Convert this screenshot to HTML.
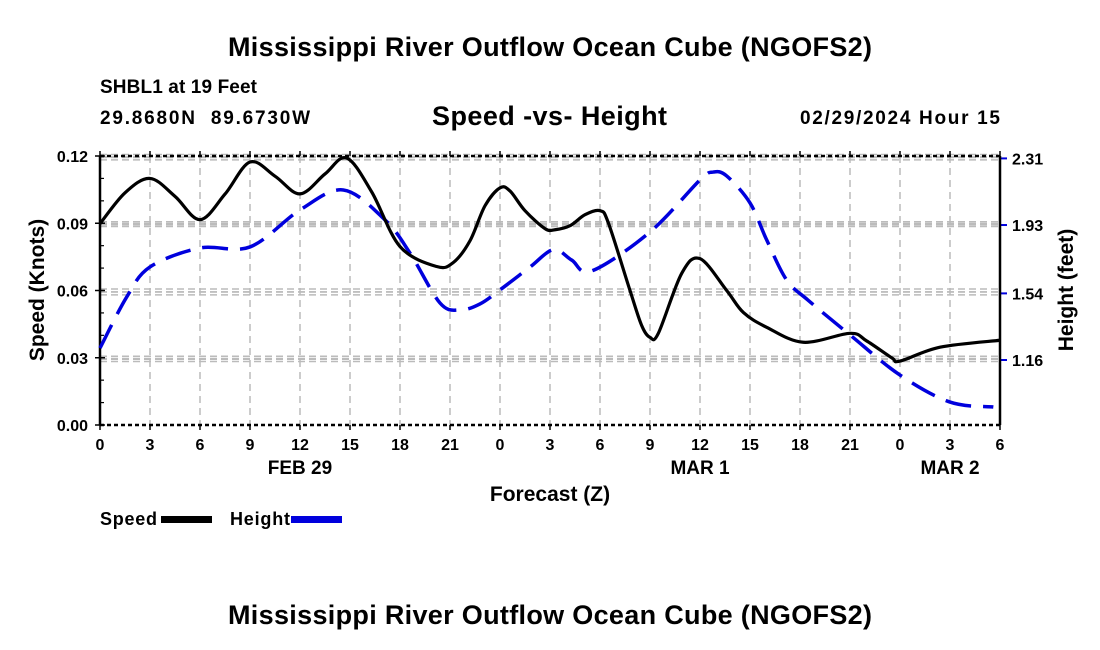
<!DOCTYPE html>
<html><head><meta charset="utf-8"><style>
body{margin:0;background:#fff;}
svg{display:block;font-family:"Liberation Sans",sans-serif;font-weight:bold;}
text{white-space:pre;}
</style></head><body>
<svg id="chart" width="1100" height="650" viewBox="0 0 1100 650">
<text x="550" y="56" font-size="27" text-anchor="middle" textLength="644">Mississippi River Outflow Ocean Cube (NGOFS2)</text>
<text x="100" y="93" font-size="19" textLength="157">SHBL1 at 19 Feet</text>
<text x="100" y="124" font-size="19" textLength="210">29.8680N  89.6730W</text>
<text x="432" y="125" font-size="27" textLength="235">Speed -vs- Height</text>
<text x="800" y="124" font-size="19" textLength="200">02/29/2024 Hour 15</text>
<g id="grid"></g>
<g id="axes"></g>
<g id="series"></g>
<text x="300" y="474" font-size="19" text-anchor="middle">FEB 29</text>
<text x="700" y="474" font-size="19" text-anchor="middle">MAR 1</text>
<text x="950" y="474" font-size="19" text-anchor="middle">MAR 2</text>
<text x="550" y="501" font-size="21" text-anchor="middle">Forecast (Z)</text>
<text transform="translate(44,290) rotate(-90)" font-size="21" text-anchor="middle">Speed (Knots)</text>
<text transform="translate(1073,290) rotate(-90)" font-size="21" text-anchor="middle">Height (feet)</text>
<g>
<text x="100" y="525" font-size="18" textLength="57">Speed</text>
<rect x="161" y="516" width="51" height="7" fill="#000"/>
</g>
<g>
<text x="230" y="525" font-size="18" textLength="60">Height</text>
<rect x="291" y="516" width="51" height="7" fill="#0000dd"/>
</g>
<text x="550" y="624" font-size="27" text-anchor="middle" textLength="644">Mississippi River Outflow Ocean Cube (NGOFS2)</text>
</svg>
<script>
const xTickLabels=["0","3","6","9","12","15","18","21","0","3","6","9","12","15","18","21","0","3","6"];
const leftTicks=[0,0.03,0.06,0.09,0.12];
const leftTickLabels=["0.00","0.03","0.06","0.09","0.12"];
const rightTicks=[1.16,1.54,1.93,2.31];
const rightTickLabels=["1.16","1.54","1.93","2.31"];
const speedHours=[0,1.5,3,4.5,6,7.5,9,10.5,12,13.5,14.8,16.3,18,20.2,21.2,22.2,23.1,24,24.6,25.5,26.7,27.3,28.2,29.1,30,30.5,31.8,32.5,33,33.5,34.9,36,37.6,38.6,40,42.2,45,46,47.5,48,50.4,54];
const speedValues=[0.0898,0.1036,0.110,0.102,0.0916,0.103,0.1173,0.111,0.1031,0.112,0.1191,0.104,0.0796,0.0707,0.0725,0.0822,0.0978,0.1058,0.1044,0.0956,0.0876,0.0871,0.0889,0.0938,0.0956,0.0902,0.060,0.0444,0.0391,0.0409,0.0676,0.0742,0.060,0.0502,0.0436,0.0369,0.0409,0.0375,0.030,0.0285,0.0347,0.0378];
const heightHours=[0,1.6,3,6,9,12,14.6,17.1,18.6,20.4,21.6,22.8,24,25.8,27.2,28.3,29.5,33,36,36.8,37.6,39,40,41.2,42.5,45,48,51,53.6];
const heightValues=[1.228,1.519,1.691,1.799,1.805,2.016,2.130,1.959,1.770,1.485,1.445,1.480,1.560,1.690,1.790,1.730,1.668,1.890,2.187,2.232,2.210,2.056,1.845,1.616,1.500,1.303,1.074,0.920,0.892];

const NS="http://www.w3.org/2000/svg";
const X0=100,X1=1000,YT=156,YB=425;
const xs=h=>X0+(h/54)*(X1-X0);
const ysL=v=>YB-(v/0.12)*(YB-YT);
const ysR=v=>360-(v-1.16)*175.3;
function mk(tag,attrs,parent){const e=document.createElementNS(NS,tag);for(const k in attrs)e.setAttribute(k,attrs[k]);parent.appendChild(e);return e;}
const grid=document.getElementById('grid'),axes=document.getElementById('axes'),series=document.getElementById('series');
xTickLabels.forEach((t,i)=>{
  const x=xs(i*3);
  if(i>0&&i<xTickLabels.length-1){const g=mk('line',{x1:x,y1:YT,x2:x,y2:YB,stroke:'#bbb','stroke-width':1.5,'stroke-dasharray':'7,5'},grid);
  
  }
  const tk=mk('line',{x1:x,y1:YB,x2:x,y2:YB+5,stroke:'#000','stroke-width':1.5},axes);
  
  
  const tt=mk('line',{x1:x,y1:YT,x2:x,y2:YT-5,stroke:'#000','stroke-width':1.5},axes);
  
  
  const lb=mk('text',{x:x,y:YB+25,'font-size':16,'text-anchor':'middle'},axes);lb.textContent=t;
  
  
});
leftTicks.forEach((v,i)=>{
  const y=ysL(v);
  if(i>0){[y-1.5,y+1.5].forEach(yy=>{const g=mk('line',{x1:X0,y1:yy,x2:X1,y2:yy,stroke:'#bbb','stroke-width':1.5,'stroke-dasharray':'7,4'},grid);
  
  });}
  const tk=mk('line',{x1:X0-5,y1:y,x2:X0+5,y2:y,stroke:'#000','stroke-width':1.5},axes);
  
  
  const lb=mk('text',{x:X0-12,y:y+6,'font-size':16,'text-anchor':'end'},axes);lb.textContent=leftTickLabels[i];
  
  
});
for(let v=0.01;v<0.12;v+=0.01){const y=ysL(v);const m=mk('line',{x1:X0,y1:y,x2:X0+4,y2:y,stroke:'#000','stroke-width':1.2},axes);
  
  }
rightTicks.forEach((v,i)=>{
  const y=ysR(v);
  [y-1.5,y+1.5].forEach(yy=>{const g=mk('line',{x1:X0,y1:yy,x2:X1,y2:yy,stroke:'#bbb','stroke-width':1.5,'stroke-dasharray':'7,4'},grid);
  
  });
  const tk=mk('line',{x1:X1,y1:y,x2:X1+7,y2:y,stroke:'#0000dd','stroke-width':2},axes);
  
  
  const lb=mk('text',{x:X1+12,y:y+6,'font-size':16},axes);lb.textContent=rightTickLabels[i];
  
  
});
const frame=[[X0,YT,X0,YB,null],[X1,YT,X1,YB,null],[X0,YT,X1,YT,'4,3'],[X0,YB,X1,YB,'4,3']];
frame.forEach(f=>{const a={x1:f[0],y1:f[1],x2:f[2],y2:f[3],stroke:'#000','stroke-width':2.5};if(f[4])a['stroke-dasharray']=f[4];const l=mk('line',a,axes);
  
  });
function spline(pts){let d=`M${pts[0][0]},${pts[0][1]}`;for(let i=0;i<pts.length-1;i++){const p0=pts[Math.max(0,i-1)],p1=pts[i],p2=pts[i+1],p3=pts[Math.min(pts.length-1,i+2)];
  const c1=[p1[0]+(p2[0]-p0[0])/6,p1[1]+(p2[1]-p0[1])/6],c2=[p2[0]-(p3[0]-p1[0])/6,p2[1]-(p3[1]-p1[1])/6];
  d+=`C${c1[0]},${c1[1]} ${c2[0]},${c2[1]} ${p2[0]},${p2[1]}`;}return d;}
const hp=mk('path',{d:spline(heightHours.map((h,i)=>[xs(h),ysR(heightValues[i])])),fill:'none',stroke:'#0000dd','stroke-width':3.5,'stroke-dasharray':'26,12'},series);


const sp=mk('path',{d:spline(speedHours.map((h,i)=>[xs(h),ysL(speedValues[i])])),fill:'none',stroke:'#000','stroke-width':3.2},series);


</script>
</body></html>
